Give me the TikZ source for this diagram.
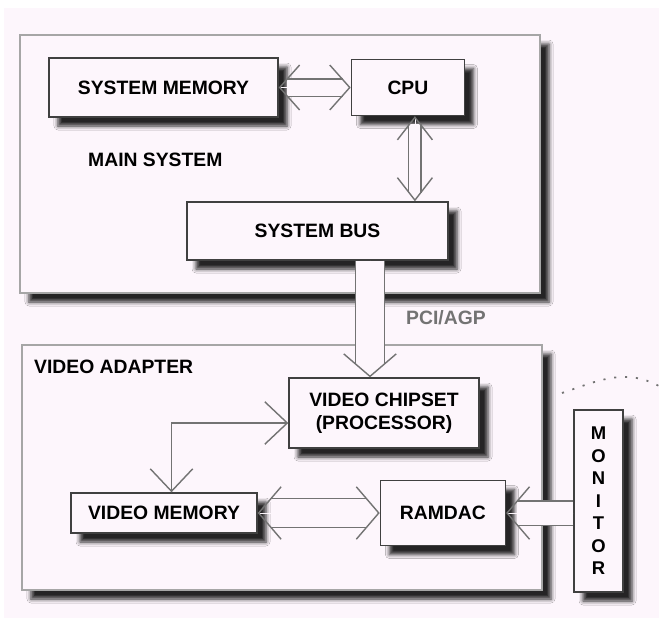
\documentclass[tikz,border=0pt]{standalone}
\usepackage{fontspec}
\setmainfont{Liberation Sans}
\usetikzlibrary{arrows.meta, positioning, shadows.blur}
\definecolor{bg}{RGB}{253,246,252}
\tikzset{
  bighead/.tip={Straight Barb[color=black!55, line width=0.8pt, length=4.5mm, width=10.5mm]},
  midhead/.tip={Straight Barb[color=black!55, line width=0.8pt, length=4mm, width=9mm]},
  smallhead/.tip={Straight Barb[color=black!55, line width=0.8pt, length=4.5mm, width=7mm]}}

\begin{document}
\begin{tikzpicture}[x=0.2mm, y=-0.2mm, font=\bfseries\fontsize{11}{13}\selectfont, node distance=4mm,
  box/.style={draw=black!75, line width=0.8pt, fill=bg, inner sep=0pt,
    blur shadow={shadow xshift=1.8mm, shadow yshift=-1.8mm, shadow blur radius=0.8mm, shadow opacity=85}},
  frame/.style={box, draw=black!35},
  shaft/.style={draw=black!55, line width=0.8pt, double=bg, double distance=#1},
  headline/.style={draw=bg, line width=0.4pt},
  thinarrow/.style={draw=black!55, line width=0.8pt,
    {Straight Barb[length=4.5mm, width=8.5mm]}-{Straight Barb[length=4.5mm, width=8.5mm]}}]
  \fill[bg] (4,8) rectangle (659,618);
  \useasboundingbox (0,0) rectangle (659,618);
  % the two outer frames
  \node[frame, minimum width=104mm, minimum height=51.6mm] (mainsys) at (280,164) {};
  \node[frame, minimum width=104mm, minimum height=49mm] (vidadapter) at (282,467.5) {};
  \node[anchor=west] (mainlbl) at (82,160) {MAIN SYSTEM};
  \node[anchor=west] (vidlbl) at (28,367) {VIDEO ADAPTER};
  \node[anchor=west, text=black!55] (buslbl) at (400,318) {PCI/AGP};
  % main system
  \node[box, minimum width=45.8mm, minimum height=11.8mm] (sysmem) at (163.5,87.5) {SYSTEM MEMORY};
  \node[box, minimum width=22.6mm, minimum height=11.2mm, right=14.4mm of sysmem] (cpu) {CPU};
  \node[box, minimum width=52.2mm, minimum height=11.6mm] (sysbus) at (317.5,231) {SYSTEM BUS};
  % video adapter
  \node[box, minimum width=38mm, minimum height=14mm, align=center] (chipset) at (384,413)
    {VIDEO CHIPSET\\(PROCESSOR)};
  \node[box, minimum width=37.2mm, minimum height=8mm] (vidmem) at (164,513) {VIDEO MEMORY};
  \node[box, minimum width=25mm, minimum height=13mm, right=24.4mm of vidmem] (ramdac) {RAMDAC};
  \node[box, minimum width=9.8mm, minimum height=36.4mm, align=center, font=\bfseries\fontsize{10.5}{12.8}\selectfont]
    (monitor) at (598.5,501) {M\\O\\N\\I\\T\\O\\R};
  \coordinate (cablein) at (562,393);
  \coordinate (cableout) at (659,386);
  % connectors: hollow shafts, then their open heads
  \draw[shaft=3.2mm, shorten <=1.6mm, shorten >=1.6mm] (sysmem.east) -- (cpu.west);
  \draw[headline, midhead-midhead] (sysmem.east) -- (cpu.west);
  \draw[shaft=2.2mm, shorten <=1.6mm, shorten >=1.6mm] ([xshift=1.4mm]cpu.south) -- ([xshift=1.4mm]cpu.south |- sysbus.north);
  \draw[headline, smallhead-smallhead] ([xshift=1.4mm]cpu.south) -- ([xshift=1.4mm]cpu.south |- sysbus.north);
  \draw[shaft=5.6mm, shorten >=2.6mm] ([xshift=-2.8mm]chipset.north |- sysbus.south) -- ([xshift=-2.8mm]chipset.north);
  \draw[headline, -bighead] ([xshift=-2.8mm]chipset.north |- sysbus.south) -- ([xshift=-2.8mm]chipset.north);
  \draw[shaft=5.6mm, shorten <=2.6mm, shorten >=2.6mm] (vidmem.east) -- (vidmem.east -| ramdac.west);
  \draw[headline, bighead-bighead] (vidmem.east) -- (vidmem.east -| ramdac.west);
  \draw[shaft=4.6mm, shorten >=2.2mm] (monitor.west |- ramdac.east) -- (ramdac.east);
  \draw[headline, -bighead] (monitor.west |- ramdac.east) -- (ramdac.east);
  \draw[thinarrow] ([yshift=-2mm]chipset.west) -| ([xshift=1.5mm]vidmem.north);
  \draw[black!55, line width=1pt, dash pattern=on 1.2pt off 5pt] (cablein) .. controls (600,380) and (625,368) .. (cableout);
\end{tikzpicture}
\end{document}
